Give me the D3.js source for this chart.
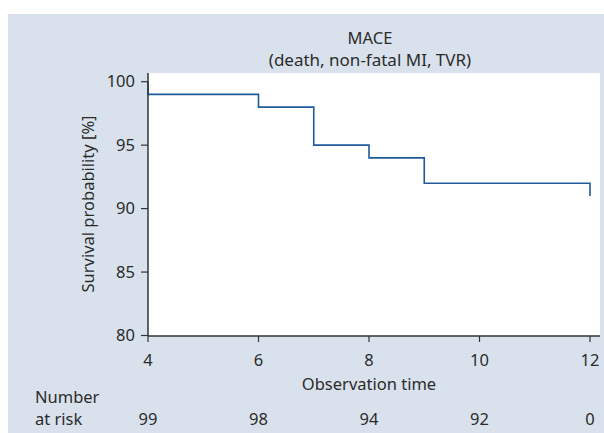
<!DOCTYPE html>
<html><head><meta charset="utf-8">
<script src="https://cdn.jsdelivr.net/npm/d3@7"></script>
<style>
body{margin:0;background:#fff;}
svg text{font-family:"Noto Sans",sans-serif;fill:#2b2b2b;}
</style></head>
<body><svg id="c" width="604" height="433"></svg>
<script>
const times = [4, 6, 7, 8, 9, 12];
const survival = [99, 98, 95, 94, 92, 91];
const startValue = 100;
const xTicks = [4, 6, 8, 10, 12];
const yTicks = [80, 85, 90, 95, 100];
const riskTimes = [4, 6, 8, 10, 12];
const atRisk = [99, 98, 94, 92, 0];
const titleLines = ["MACE", "(death, non-fatal MI, TVR)"];

const svg = d3.select("#c");
svg.append("rect").attr("x", 8).attr("y", 14).attr("width", 596).attr("height", 419).attr("fill", "#d9e2ec");
const plot = {left: 148, right: 600, top: 73, bottom: 336};
svg.append("rect").attr("x", plot.left).attr("y", plot.top).attr("width", plot.right - plot.left).attr("height", plot.bottom - plot.top).attr("fill", "#fff");

const x = d3.scaleLinear().domain([4, 12]).range([148, 590]);
const y = d3.scaleLinear().domain([80, 100]).range([335.5, 81.7]);

// step curve
const pts = [[times[0], startValue]];
times.forEach((t, i) => { pts.push([t, survival[i]]); if (i < times.length - 1) pts.push([times[i + 1], survival[i]]); });
svg.append("path").attr("d", d3.line().x(d => x(d[0])).y(d => y(d[1]))(pts))
  .attr("fill", "none").attr("stroke", "#1f5a9c").attr("stroke-width", 1.6);

// axes
const ax = "#333";
const fs = 16.5;
svg.append("line").attr("x1", plot.left).attr("x2", plot.left).attr("y1", plot.top).attr("y2", plot.bottom).attr("stroke", ax).attr("stroke-width", 1.5);
svg.append("line").attr("x1", plot.left).attr("x2", plot.right).attr("y1", plot.bottom).attr("y2", plot.bottom).attr("stroke", ax).attr("stroke-width", 1.5);
yTicks.forEach(v => {
  svg.append("line").attr("x1", plot.left - 7).attr("x2", plot.left).attr("y1", y(v)).attr("y2", y(v)).attr("stroke", ax).attr("stroke-width", 1.2);
  svg.append("text").attr("x", plot.left - 13).attr("y", y(v)).attr("dy", "0.35em").attr("text-anchor", "end").attr("font-size", fs).text(v);
});
xTicks.forEach(v => {
  svg.append("line").attr("x1", x(v)).attr("x2", x(v)).attr("y1", plot.bottom).attr("y2", plot.bottom + 6).attr("stroke", ax).attr("stroke-width", 1.2);
  svg.append("text").attr("x", x(v)).attr("y", 360).attr("dy", "0.35em").attr("text-anchor", "middle").attr("font-size", fs).text(v);
});
svg.append("text").attr("x", 369).attr("y", 384).attr("dy", "0.35em").attr("text-anchor", "middle").attr("font-size", fs).text("Observation time");
svg.append("text").attr("transform", "translate(88,204) rotate(-90)").attr("dy", "0.35em").attr("text-anchor", "middle").attr("font-size", fs).text("Survival probability [%]");
titleLines.forEach((t, i) => {
  svg.append("text").attr("x", 370).attr("y", 38 + i * 22).attr("dy", "0.35em").attr("text-anchor", "middle").attr("font-size", i ? 17 : fs).text(t);
});
svg.append("text").attr("x", 35).attr("y", 397).attr("dy", "0.35em").attr("font-size", fs).text("Number");
svg.append("text").attr("x", 35).attr("y", 419).attr("dy", "0.35em").attr("font-size", fs).text("at risk");
riskTimes.forEach((t, i) => {
  svg.append("text").attr("x", x(t)).attr("y", 419).attr("dy", "0.35em").attr("text-anchor", "middle").attr("font-size", fs).text(atRisk[i]);
});
</script></body></html>
